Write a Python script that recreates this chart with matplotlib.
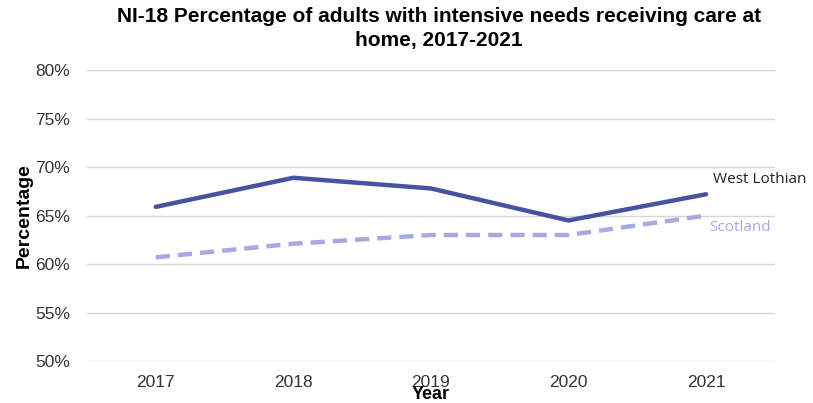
import matplotlib.pyplot as plt
from matplotlib.ticker import FuncFormatter

plt.rcParams['font.family'] = ['Liberation Sans', 'DejaVu Sans']

years = ['2017', '2018', '2019', '2020', '2021']
west_lothian = [65.9, 68.9, 67.8, 64.5, 67.2]
scotland = [60.7, 62.1, 63.0, 63.0, 65.0]

wl_colour = '#4653a0'
sc_colour = '#a9a9e2'

fig = plt.figure(figsize=(8.13, 4.03), dpi=100)
ax = fig.add_axes([0.107, 0.104, 0.846, 0.722])

x = range(len(years))
ax.plot(x, west_lothian, color=wl_colour, lw=3.2, solid_capstyle='round')
ax.plot(x, scotland, color=sc_colour, lw=3.2, ls=(0, (3.2, 1.8)))

ax.text(4.05, west_lothian[-1] + 1.5, 'West Lothian', fontsize=11,
        family=['Open Sans', 'DejaVu Sans'], color='#222222', va='center')
ax.text(4.02, scotland[-1] - 1.2, 'Scotland', fontsize=11,
        family=['Open Sans', 'DejaVu Sans'], color=sc_colour, va='center')

ax.set_xlim(-0.5, 4.5)
ax.set_ylim(50, 80)
ax.set_xticks(list(x))
ax.set_xticklabels(years)
ax.set_yticks(range(50, 81, 5))
ax.yaxis.set_major_formatter(FuncFormatter(lambda v, p: f'{v:.0f}%'))
ax.grid(axis='y', color='#d6d6d6', lw=1)
ax.set_axisbelow(True)
for s in ax.spines.values():
    s.set_visible(False)
ax.tick_params(length=0, labelsize=12.5, colors='#333333')
ax.tick_params(axis='x', pad=10)
ax.tick_params(axis='y', pad=12)

ax.set_xlabel('Year', fontsize=13, fontweight='bold', labelpad=-3)
ax.set_ylabel('Percentage', fontsize=14, fontweight='bold', labelpad=2)
fig.text(0.54, 0.982,
         'NI-18 Percentage of adults with intensive needs receiving care at\nhome, 2017-2021',
         fontsize=15, fontweight='bold', ha='center', va='top', linespacing=1.3)

fig.savefig('out.png', dpi=100)
